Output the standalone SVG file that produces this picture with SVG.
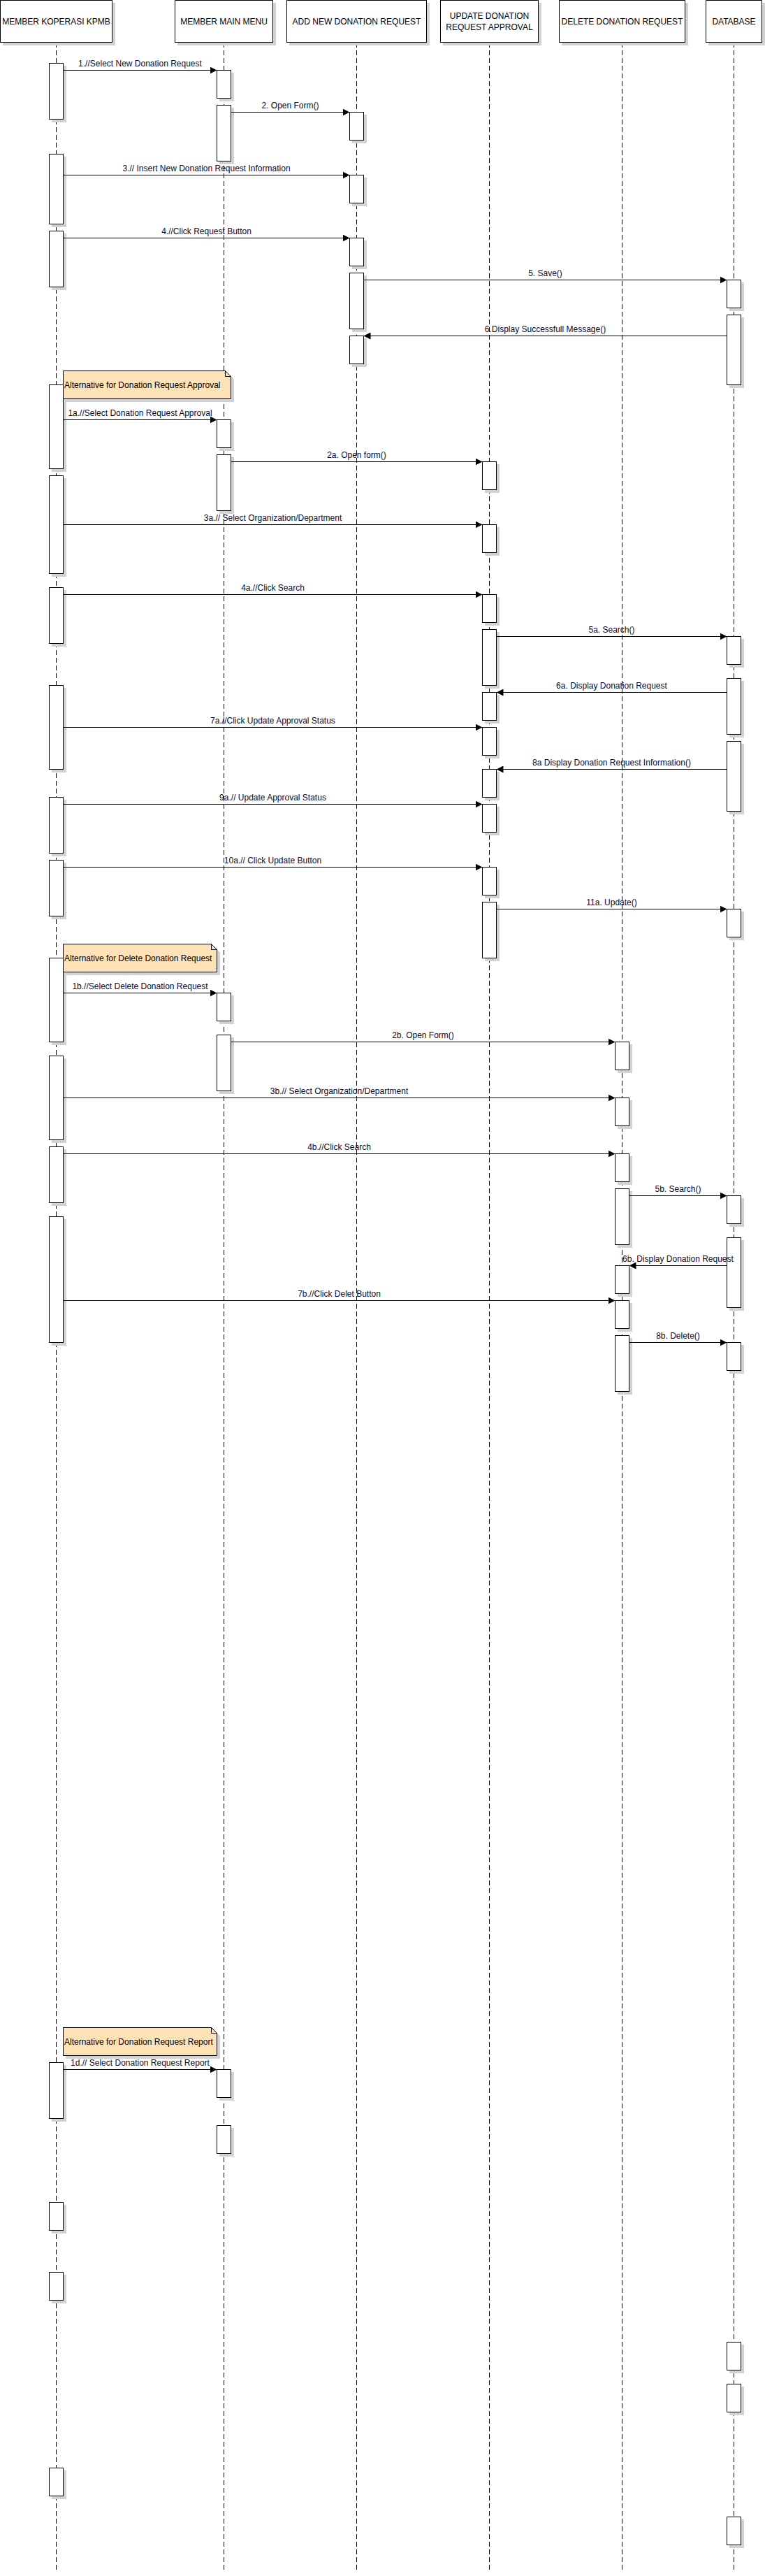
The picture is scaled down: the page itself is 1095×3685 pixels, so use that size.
<svg xmlns="http://www.w3.org/2000/svg" width="1095" height="3685" viewBox="0 0 1095 3685">
<style>
.bg{fill:#ffffff}
.hdr{fill:#ffffff;stroke:#000;stroke-width:1;filter:url(#shadow)}
.htxt{font-family:"Liberation Sans",Arial,sans-serif;font-size:12px;fill:#000;text-anchor:middle}
.life{stroke:#000;stroke-width:1;stroke-dasharray:7 4;fill:none}
.act{fill:#ffffff;stroke:#000;stroke-width:1;filter:url(#shadow)}
.msg{stroke:#000;stroke-width:1;fill:none;marker-end:url(#arr)}
.lbl{font-family:"Liberation Sans",Arial,sans-serif;font-size:12px;fill:#0a0a26;text-anchor:middle}
.note{fill:#fde2b6;stroke:#000;stroke-width:1;filter:url(#shadow)}
.fold{fill:none;stroke:#000;stroke-width:1}
.ntxt{font-family:"Liberation Sans",Arial,sans-serif;font-size:12px;fill:#000}
</style>
<defs>
<filter id="shadow" x="-50%" y="-50%" width="200%" height="200%">
<feFlood flood-color="#d2d2d2" result="f"/>
<feComposite in="f" in2="SourceAlpha" operator="in" result="s"/>
<feOffset in="s" dx="4" dy="4" result="o"/>
<feMerge><feMergeNode in="o"/><feMergeNode in="SourceGraphic"/></feMerge>
</filter>
<marker id="arr" markerUnits="userSpaceOnUse" markerWidth="10" markerHeight="10" refX="10" refY="5" orient="auto">
<path d="M0,0 L10,5 L0,10 Z" fill="#000"/>
</marker>
</defs>
<rect class="bg" x="0" y="0" width="1095" height="3685"/>

<g id="lifelines">
<line class="life" x1="80.5" y1="61" x2="80.5" y2="3676"/>
<line class="life" x1="320.5" y1="61" x2="320.5" y2="3676"/>
<line class="life" x1="510.5" y1="61" x2="510.5" y2="3676"/>
<line class="life" x1="700.5" y1="61" x2="700.5" y2="3676"/>
<line class="life" x1="890.5" y1="61" x2="890.5" y2="3676"/>
<line class="life" x1="1050.5" y1="61" x2="1050.5" y2="3676"/>
</g>

<g id="member">
<rect class="hdr" x="0.5" y="0.5" width="160" height="60"/>
<text class="htxt" x="80.5" y="35">MEMBER KOPERASI KPMB</text>
<rect class="act" x="70.5" y="90.5" width="20" height="80"/>
<rect class="act" x="70.5" y="220.5" width="20" height="100"/>
<rect class="act" x="70.5" y="330.5" width="20" height="80"/>
<rect class="act" x="70.5" y="550.5" width="20" height="120"/>
<rect class="act" x="70.5" y="680.5" width="20" height="140"/>
<rect class="act" x="70.5" y="840.5" width="20" height="80"/>
<rect class="act" x="70.5" y="980.5" width="20" height="120"/>
<rect class="act" x="70.5" y="1140.5" width="20" height="80"/>
<rect class="act" x="70.5" y="1230.5" width="20" height="80"/>
<rect class="act" x="70.5" y="1370.5" width="20" height="120"/>
<rect class="act" x="70.5" y="1510.5" width="20" height="120"/>
<rect class="act" x="70.5" y="1640.5" width="20" height="80"/>
<rect class="act" x="70.5" y="1740.5" width="20" height="180"/>
<rect class="act" x="70.5" y="2950.5" width="20" height="80"/>
<rect class="act" x="70.5" y="3150.5" width="20" height="40"/>
<rect class="act" x="70.5" y="3250.5" width="20" height="40"/>
<rect class="act" x="70.5" y="3530.5" width="20" height="40"/>
</g>

<g id="mainmenu">
<rect class="hdr" x="250.5" y="0.5" width="140" height="60"/>
<text class="htxt" x="320.5" y="35">MEMBER MAIN MENU</text>
<rect class="act" x="310.5" y="100.5" width="20" height="40"/>
<rect class="act" x="310.5" y="150.5" width="20" height="80"/>
<rect class="act" x="310.5" y="600.5" width="20" height="40"/>
<rect class="act" x="310.5" y="650.5" width="20" height="80"/>
<rect class="act" x="310.5" y="1420.5" width="20" height="40"/>
<rect class="act" x="310.5" y="1480.5" width="20" height="80"/>
<rect class="act" x="310.5" y="2960.5" width="20" height="40"/>
<rect class="act" x="310.5" y="3040.5" width="20" height="40"/>
</g>

<g id="addnew">
<rect class="hdr" x="410.5" y="0.5" width="200" height="60"/>
<text class="htxt" x="510.5" y="35">ADD NEW DONATION REQUEST</text>
<rect class="act" x="500.5" y="160.5" width="20" height="40"/>
<rect class="act" x="500.5" y="250.5" width="20" height="40"/>
<rect class="act" x="500.5" y="340.5" width="20" height="40"/>
<rect class="act" x="500.5" y="390.5" width="20" height="80"/>
<rect class="act" x="500.5" y="480.5" width="20" height="40"/>
</g>

<g id="updateapproval">
<rect class="hdr" x="630.5" y="0.5" width="140" height="60"/>
<text class="htxt" x="700.5" y="27">UPDATE DONATION</text>
<text class="htxt" x="700.5" y="43">REQUEST APPROVAL</text>
<rect class="act" x="690.5" y="660.5" width="20" height="40"/>
<rect class="act" x="690.5" y="750.5" width="20" height="40"/>
<rect class="act" x="690.5" y="850.5" width="20" height="40"/>
<rect class="act" x="690.5" y="900.5" width="20" height="80"/>
<rect class="act" x="690.5" y="990.5" width="20" height="40"/>
<rect class="act" x="690.5" y="1040.5" width="20" height="40"/>
<rect class="act" x="690.5" y="1100.5" width="20" height="40"/>
<rect class="act" x="690.5" y="1150.5" width="20" height="40"/>
<rect class="act" x="690.5" y="1240.5" width="20" height="40"/>
<rect class="act" x="690.5" y="1290.5" width="20" height="80"/>
</g>

<g id="deleterequest">
<rect class="hdr" x="800.5" y="0.5" width="180" height="60"/>
<text class="htxt" x="890.5" y="35">DELETE DONATION REQUEST</text>
<rect class="act" x="880.5" y="1490.5" width="20" height="40"/>
<rect class="act" x="880.5" y="1570.5" width="20" height="40"/>
<rect class="act" x="880.5" y="1650.5" width="20" height="40"/>
<rect class="act" x="880.5" y="1700.5" width="20" height="80"/>
<rect class="act" x="880.5" y="1810.5" width="20" height="40"/>
<rect class="act" x="880.5" y="1860.5" width="20" height="40"/>
<rect class="act" x="880.5" y="1910.5" width="20" height="80"/>
</g>

<g id="database">
<rect class="hdr" x="1010.5" y="0.5" width="80" height="60"/>
<text class="htxt" x="1050.5" y="35">DATABASE</text>
<rect class="act" x="1040.5" y="400.5" width="20" height="40"/>
<rect class="act" x="1040.5" y="450.5" width="20" height="100"/>
<rect class="act" x="1040.5" y="910.5" width="20" height="40"/>
<rect class="act" x="1040.5" y="970.5" width="20" height="80"/>
<rect class="act" x="1040.5" y="1060.5" width="20" height="100"/>
<rect class="act" x="1040.5" y="1300.5" width="20" height="40"/>
<rect class="act" x="1040.5" y="1710.5" width="20" height="40"/>
<rect class="act" x="1040.5" y="1770.5" width="20" height="100"/>
<rect class="act" x="1040.5" y="1920.5" width="20" height="40"/>
<rect class="act" x="1040.5" y="3350.5" width="20" height="40"/>
<rect class="act" x="1040.5" y="3410.5" width="20" height="40"/>
<rect class="act" x="1040.5" y="3600.5" width="20" height="40"/>
</g>

<g id="connectors">
<line class="msg" x1="90.5" y1="100.5" x2="310.5" y2="100.5"/>
<text class="lbl" x="200.5" y="95">1.//Select New Donation Request</text>
<line class="msg" x1="330.5" y1="160.5" x2="500.5" y2="160.5"/>
<text class="lbl" x="415.5" y="155">2. Open Form()</text>
<line class="msg" x1="90.5" y1="250.5" x2="500.5" y2="250.5"/>
<text class="lbl" x="295.5" y="245">3.// Insert New Donation Request Information</text>
<line class="msg" x1="90.5" y1="340.5" x2="500.5" y2="340.5"/>
<text class="lbl" x="295.5" y="335">4.//Click Request Button</text>
<line class="msg" x1="520.5" y1="400.5" x2="1040.5" y2="400.5"/>
<text class="lbl" x="780.5" y="395">5. Save()</text>
<line class="msg" x1="1040.5" y1="480.5" x2="520.5" y2="480.5"/>
<text class="lbl" x="780.5" y="475">6.Display Successfull Message()</text>

<line class="msg" x1="90.5" y1="600.5" x2="310.5" y2="600.5"/>
<text class="lbl" x="200.5" y="595">1a.//Select Donation Request Approval</text>
<line class="msg" x1="330.5" y1="660.5" x2="690.5" y2="660.5"/>
<text class="lbl" x="510.5" y="655">2a. Open form()</text>
<line class="msg" x1="90.5" y1="750.5" x2="690.5" y2="750.5"/>
<text class="lbl" x="390.5" y="745">3a.// Select Organization/Department</text>
<line class="msg" x1="90.5" y1="850.5" x2="690.5" y2="850.5"/>
<text class="lbl" x="390.5" y="845">4a.//Click Search</text>
<line class="msg" x1="710.5" y1="910.5" x2="1040.5" y2="910.5"/>
<text class="lbl" x="875.5" y="905">5a. Search()</text>
<line class="msg" x1="1040.5" y1="990.5" x2="710.5" y2="990.5"/>
<text class="lbl" x="875.5" y="985">6a. Display Donation Request</text>
<line class="msg" x1="90.5" y1="1040.5" x2="690.5" y2="1040.5"/>
<text class="lbl" x="390.5" y="1035">7a.//Click Update Approval Status</text>
<line class="msg" x1="1040.5" y1="1100.5" x2="710.5" y2="1100.5"/>
<text class="lbl" x="875.5" y="1095">8a Display Donation Request Information()</text>
<line class="msg" x1="90.5" y1="1150.5" x2="690.5" y2="1150.5"/>
<text class="lbl" x="390.5" y="1145">9a.// Update Approval Status</text>
<line class="msg" x1="90.5" y1="1240.5" x2="690.5" y2="1240.5"/>
<text class="lbl" x="390.5" y="1235">10a.// Click Update Button</text>
<line class="msg" x1="710.5" y1="1300.5" x2="1040.5" y2="1300.5"/>
<text class="lbl" x="875.5" y="1295">11a. Update()</text>

<line class="msg" x1="90.5" y1="1420.5" x2="310.5" y2="1420.5"/>
<text class="lbl" x="200.5" y="1415">1b.//Select Delete Donation Request</text>
<line class="msg" x1="330.5" y1="1490.5" x2="880.5" y2="1490.5"/>
<text class="lbl" x="605.5" y="1485">2b. Open Form()</text>
<line class="msg" x1="90.5" y1="1570.5" x2="880.5" y2="1570.5"/>
<text class="lbl" x="485.5" y="1565">3b.// Select Organization/Department</text>
<line class="msg" x1="90.5" y1="1650.5" x2="880.5" y2="1650.5"/>
<text class="lbl" x="485.5" y="1645">4b.//Click Search</text>
<line class="msg" x1="900.5" y1="1710.5" x2="1040.5" y2="1710.5"/>
<text class="lbl" x="970.5" y="1705">5b. Search()</text>
<line class="msg" x1="1040.5" y1="1810.5" x2="900.5" y2="1810.5"/>
<text class="lbl" x="970.5" y="1805">6b. Display Donation Request</text>
<line class="msg" x1="90.5" y1="1860.5" x2="880.5" y2="1860.5"/>
<text class="lbl" x="485.5" y="1855">7b.//Click Delet Button</text>
<line class="msg" x1="900.5" y1="1920.5" x2="1040.5" y2="1920.5"/>
<text class="lbl" x="970.5" y="1915">8b. Delete()</text>

<line class="msg" x1="90.5" y1="2960.5" x2="310.5" y2="2960.5"/>
<text class="lbl" x="200.5" y="2955">1d.// Select Donation Request Report</text>
</g>

<g id="note-approval">
<path class="note" d="M90.5,530.5 H322.5 L330.5,538.5 V570.5 H90.5 Z"/>
<path class="fold" d="M322.5,530.5 V538.5 H330.5"/>
<text class="ntxt" x="92" y="554.5">Alternative for Donation Request Approval</text>
</g>
<g id="note-delete">
<path class="note" d="M90.5,1350.5 H302.5 L310.5,1358.5 V1390.5 H90.5 Z"/>
<path class="fold" d="M302.5,1350.5 V1358.5 H310.5"/>
<text class="ntxt" x="92" y="1374.5">Alternative for Delete Donation Request</text>
</g>
<g id="note-report">
<path class="note" d="M90.5,2900.5 H302.5 L310.5,2908.5 V2940.5 H90.5 Z"/>
<path class="fold" d="M302.5,2900.5 V2908.5 H310.5"/>
<text class="ntxt" x="92" y="2924.5">Alternative for Donation Request Report</text>
</g>
</svg>
